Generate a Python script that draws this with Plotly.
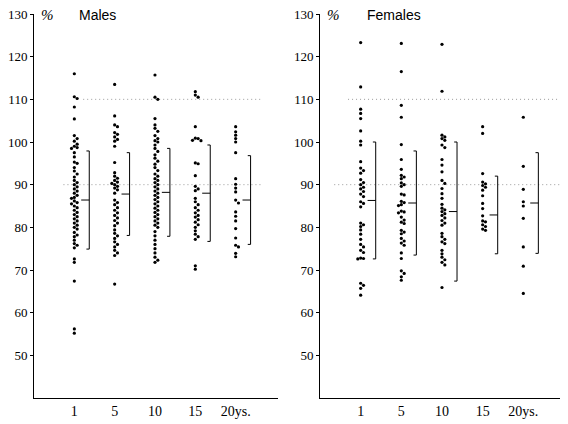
import plotly.graph_objects as go

# ---------------- data ----------------
categories = ["1", "5", "10", "15", "20ys."]

males_1 = [116, 110.6, 110.2, 108.2, 105.4, 101.5, 100.8, 100.2, 99.5, 99, 98.7, 98.5, 97.5, 96.5,
           95.3, 95, 94, 93.2, 92.5, 91.8, 91, 90.5, 90, 89.5, 89, 88.5, 88, 87.5, 87, 86.8, 86.2,
           85.8, 85.5, 85, 84.6, 84, 83.5, 83, 82.5, 82, 81.5, 81, 80.5, 80, 79.6, 78.8, 78.2, 77.8,
           77, 76.2, 75.8, 75.2, 72.6, 71.8, 67.4, 56.2, 55.2]
males_5 = [113.5, 106.1, 104, 103.6, 102.2, 101.8, 101.2, 100.6, 100.2, 99, 95.2, 92.8, 92, 91.5,
           91, 90.6, 90.3, 90, 89.6, 89.2, 88.8, 88, 86.4, 85.8, 85.3, 84.6, 84, 83.4, 82.8, 82.2,
           81.6, 81, 80.4, 79.4, 78.6, 78, 77.4, 76.6, 76, 75.4, 74.6, 74, 73.4, 66.7]
males_10 = [115.7, 110.5, 110, 105.5, 104, 103.2, 102.5, 101.5, 100.8, 100.3, 100, 99.3, 98.5, 97.8,
            97, 96.2, 95.5, 94.8, 94, 93.3, 92.5, 92, 91.4, 91, 90.5, 90, 89.5, 89, 88.5, 88, 87.5,
            87, 86.5, 86, 85.5, 85, 84.5, 84, 83.5, 83, 82.5, 82, 81.5, 81, 80.5, 80, 79, 78, 77,
            76, 75, 74, 73, 72.3, 71.8]
males_15 = [111.8, 111, 110.5, 103.6, 100.9, 100.8, 100.4, 100.3, 95.1, 94.9, 92.1, 89.6, 89, 88.6,
            86.8, 86, 85.3, 84.6, 84, 83.4, 82.8, 82.4, 81.8, 81.2, 80.6, 80, 79.2, 78.4, 77.8,
            77.2, 71, 70.2]
males_20 = [103.6, 102.4, 101.6, 100.8, 100, 97.5, 91.4, 90.1, 89.2, 88.3, 86.4, 85.7, 83.6, 82.6,
            81.5, 79.7, 77.5, 75.8, 75.4, 73.9, 73.1]

females_1 = [123.3, 112.9, 107.7, 106.7, 105.5, 102.6, 100.2, 99.3, 95.4, 93.9, 93.3, 92.7, 91.2,
             90.5, 90, 89.4, 89, 88.4, 87.8, 87.2, 86, 85.6, 84.8, 81, 80.6, 80.2, 79.4, 78.4, 77.2,
             76, 75.4, 74.6, 74.1, 72.8, 72.7, 72.6, 66.9, 66.4, 65.7, 64.1]
females_5 = [123.1, 116.5, 108.6, 105.8, 99.4, 95.9, 93.6, 92.2, 91.8, 91.4, 90.4, 90, 89.6, 87.8,
             87.6, 86.1, 85.8, 85.3, 85.1, 83.8, 83.6, 83.4, 82.4, 81.7, 81.2, 80.9, 79.3, 78.9,
             78.5, 77.4, 76.8, 76.3, 75.8, 74, 72.7, 69.8, 69.2, 68.4, 67.6]
females_10 = [122.9, 111.9, 101.6, 101.2, 100.8, 100.4, 99.3, 98.7, 95.9, 94.6, 93, 91, 90.3, 89.1,
              87.9, 86.8, 85.4, 84.5, 84.1, 83.7, 83.2, 82.8, 82.2, 81.6, 81, 80.5, 78.6, 77.8,
              77.2, 76.6, 76.2, 74.6, 73.8, 73, 72.4, 71.8, 71.2, 65.9]
females_15 = [103.6, 102, 92.6, 90.6, 90.2, 89.8, 89.4, 88.7, 87.4, 85.6, 84.4, 82.7, 81.5, 81.3,
              80.6, 80.2, 79.6, 79.3]
females_20 = [105.8, 94.3, 88.9, 86, 85, 82.1, 75.4, 70.9, 64.5]

males_mean = [86.4, 87.8, 88.2, 88.0, 86.4]
males_sd = [11.5, 9.7, 10.3, 11.3, 10.4]
females_mean = [86.3, 85.7, 83.7, 82.9, 85.7]
females_sd = [13.7, 12.2, 16.3, 9.1, 11.8]

reference_lines = [90, 110]
yticks = [50, 60, 70, 80, 90, 100, 110, 120, 130]

males = [males_1, males_5, males_10, males_15, males_20]
females = [females_1, females_5, females_10, females_15, females_20]

# ---------------- helpers ----------------
def swarm(values, idx):
    """Simple deterministic beeswarm: nudge dots sideways when they collide."""
    placed = []
    xs, ys = [], []
    for v in sorted(values, reverse=True):
        for off in [0, 0.07, -0.07, 0.14, -0.14, 0.21, -0.21]:
            if all(abs(v - pv) > 0.75 or abs(off - po) > 0.06 for pv, po in placed):
                break
        placed.append((v, off))
        xs.append(idx + off)
        ys.append(v)
    return xs, ys


def brackets(means, sds):
    xs, ys = [], []
    for i, (m, s) in enumerate(zip(means, sds)):
        bx = i + 0.37
        xs += [bx - 0.07, bx, bx, bx - 0.07, None, bx - 0.2, bx, None]
        ys += [m + s, m + s, m - s, m - s, None, m, m, None]
    return xs, ys


fig = go.Figure()

panels = [
    (males, males_mean, males_sd, "x", "y"),
    (females, females_mean, females_sd, "x2", "y2"),
]

for data, means, sds, xa, ya in panels:
    for i, vals in enumerate(data):
        xs, ys = swarm(vals, i)
        fig.add_trace(go.Scatter(x=xs, y=ys, mode="markers", xaxis=xa, yaxis=ya,
                                 marker=dict(color="black", size=3.2), showlegend=False,
                                 hoverinfo="y"))
    bx, by = brackets(means, sds)
    fig.add_trace(go.Scatter(x=bx, y=by, mode="lines", xaxis=xa, yaxis=ya,
                             line=dict(color="black", width=1), showlegend=False,
                             hoverinfo="skip"))

# dotted reference lines
ref_extent = {
    ("x", 90): (-0.27, 4.67), ("x", 110): (0.22, 4.67),
    ("x2", 90): (-0.65, 5.0), ("x2", 110): (-0.31, 5.0),
}
for xa, ya in [("x", "y"), ("x2", "y2")]:
    for v in reference_lines:
        x0, x1 = ref_extent[(xa, v)]
        fig.add_shape(type="line", xref=xa, yref=ya, x0=x0, x1=x1, y0=v, y1=v,
                      line=dict(color="#9a9a9a", width=1, dash="1px,3px"), layer="below")

# the page body has an 8px margin, so the figure is sized/placed to compensate
W, H = 560, 416
ydom = [1 - 390 / H, 1 - 6 / H]
ytick_font = dict(family="Liberation Serif, Times New Roman, serif", size=13, color="black")
xtick_font = dict(family="Liberation Serif, Times New Roman, serif", size=14, color="black")

common_x = dict(range=[-1, 5.05], tickmode="array", tickvals=list(range(5)), ticktext=categories,
                showline=True, linecolor="black", linewidth=1, ticks="", showgrid=False,
                zeroline=False, tickfont=xtick_font, fixedrange=True, automargin=False)
common_y = dict(range=[40, 130], domain=ydom, tickmode="array", tickvals=yticks,
                showline=True, linecolor="black", linewidth=1, ticks="outside", ticklen=3,
                tickcolor="black", showgrid=False, zeroline=False, tickfont=ytick_font,
                fixedrange=True, automargin=False, ticklabeloverflow="allow")

fig.update_layout(
    width=W, height=H,
    margin=dict(l=0, r=0, t=0, b=0),
    paper_bgcolor="white", plot_bgcolor="white",
    xaxis=dict(domain=[26 / W, 270 / W], anchor="y", **common_x),
    yaxis=dict(anchor="x", **common_y),
    xaxis2=dict(domain=[312 / W, 558 / W], anchor="y2", **common_x),
    yaxis2=dict(anchor="x2", **common_y),
    showlegend=False,
)

title_font = dict(family="Liberation Sans, Arial, sans-serif", size=14, color="black")
pct_font = dict(family="Liberation Serif, serif", size=15, color="black")
for xpx, label in [(69, "Males"), (357, "Females")]:
    fig.add_annotation(x=xpx / W, y=1 - 7 / H, xref="paper", yref="paper", text=label,
                       showarrow=False, xanchor="left", yanchor="middle", font=title_font)
for xpx in [31, 317]:
    fig.add_annotation(x=xpx / W, y=1 - 7 / H, xref="paper", yref="paper",
                       text="<i>%</i>", showarrow=False, xanchor="left", yanchor="middle",
                       font=pct_font)

fig.write_html("out.html")
